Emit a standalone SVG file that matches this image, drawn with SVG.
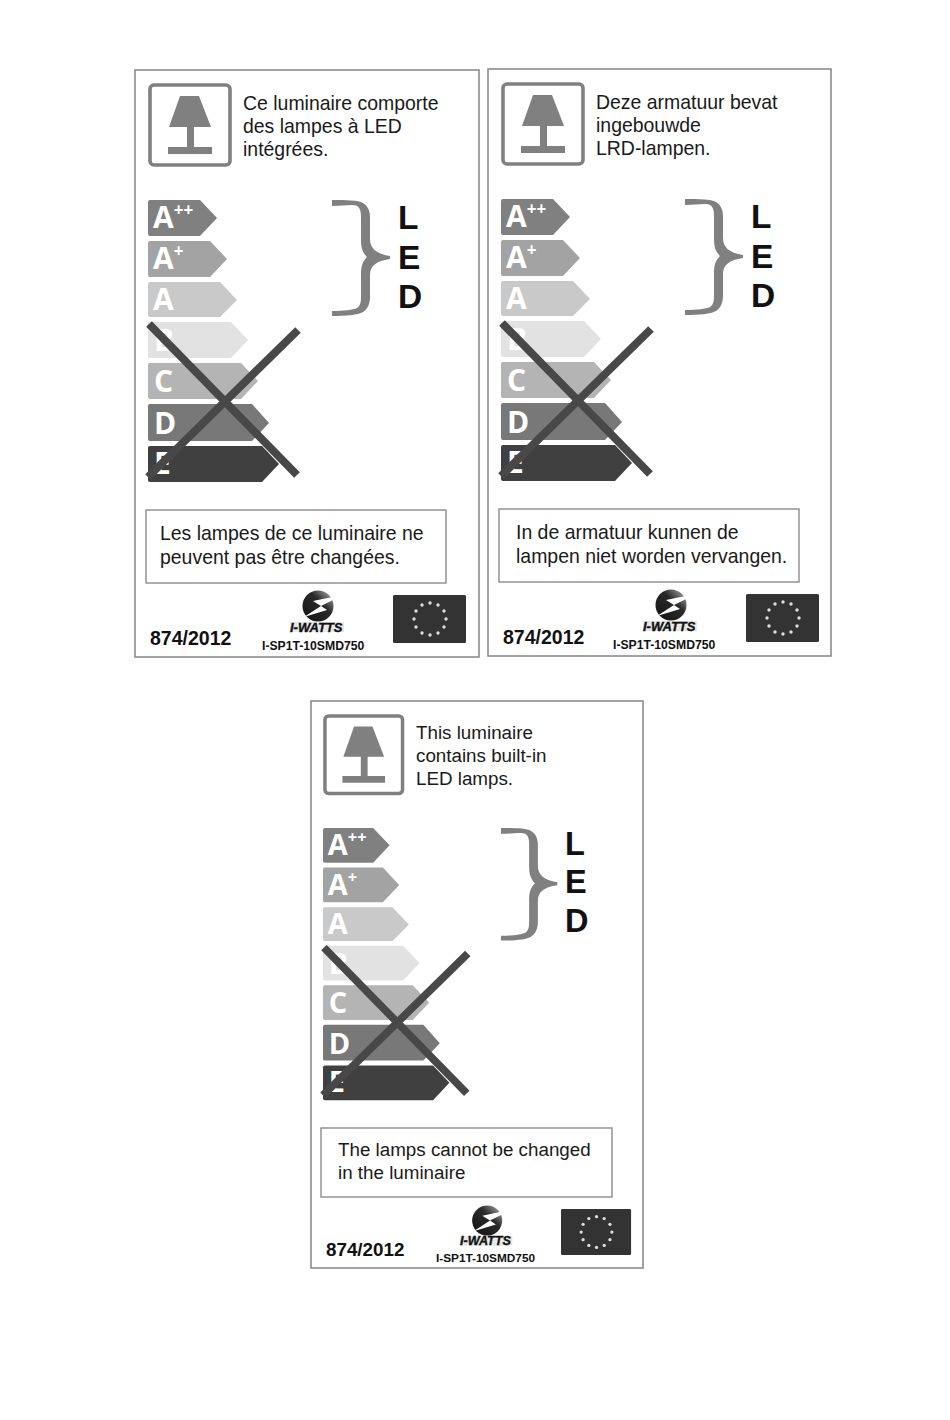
<svg xmlns="http://www.w3.org/2000/svg" width="950" height="1420" viewBox="0 0 950 1420">
<style>
.frame{fill:#fff;stroke:#8c8c8c;stroke-width:1.6}
.icon{fill:#fff;stroke:#808080;stroke-width:3.6}
.g{fill:#808080}
.t{font-family:"Liberation Sans",Arial,sans-serif;fill:#1a1a1a}
.b{font-weight:700;fill:#111}
.l{font-family:"Open Sans",sans-serif;font-weight:700;fill:#fff;font-size:30px}
.s{font-size:17px}
.x{stroke:#484848;stroke-width:8;fill:none}
.box{fill:#fff;stroke:#8c8c8c;stroke-width:1.4}
.flag{fill:#333}
.star{fill:#ddd}
.wm{font-family:"Liberation Sans",Arial,sans-serif;font-weight:700;font-style:italic;fill:#111;stroke:#111;stroke-width:.35}
</style>
<defs>
<linearGradient id="sphere" x1="0" y1="1" x2="1" y2="0"><stop offset="0" stop-color="#111"/><stop offset=".6" stop-color="#2a2a2a"/><stop offset="1" stop-color="#bbb"/></linearGradient>
<g id="lamp">
<rect class="icon" x="2" y="2" width="80" height="80" rx="4"/>
<path class="g" d="M32 13H51L63 44H46V64H64V71H20V64H39V44H21Z"/>
</g>
<g id="flagmark">
<rect class="flag" x="0" y="0" width="73" height="48" rx="1.5"/>
<g class="star"><circle cx="37" cy="8" r="1.7"/><circle cx="45" cy="10" r="1.7"/><circle cx="51" cy="16" r="1.7"/><circle cx="53" cy="24" r="1.7"/><circle cx="51" cy="32" r="1.7"/><circle cx="45" cy="38" r="1.7"/><circle cx="37" cy="40" r="1.7"/><circle cx="29" cy="38" r="1.7"/><circle cx="23" cy="32" r="1.7"/><circle cx="21" cy="24" r="1.7"/><circle cx="23" cy="16" r="1.7"/><circle cx="29" cy="10" r="1.7"/></g>
</g>
<g id="mark">
<circle cx="28" cy="16" r="15.5" fill="url(#sphere)"/>
<path d="M47 6 23 11 31 16 14 27 37 20 31 16 45 9Z" fill="#fff"/>
<rect x="0" y="32" width="54" height="10" fill="#e8e8e8"/>
</g>
<g id="bands">
<path fill="#808080" d="M2 0H52L69 18 52 36H2Q0 36 0 34V2Q0 0 2 0Z"/>
<path fill="#a3a3a3" d="M2 41H62L79 59 62 77H2Q0 77 0 75V43Q0 41 2 41Z"/>
<path fill="#c9c9c9" d="M2 82H72L89 100 72 117H2Q0 117 0 115V84Q0 82 2 82Z"/>
<path fill="#e2e2e2" d="M2 122H83L100 140 83 158H2Q0 158 0 156V124Q0 122 2 122Z"/>
<path fill="#b4b4b4" d="M2 163H93L110 181 93 199H2Q0 199 0 197V165Q0 163 2 163Z"/>
<path fill="#787878" d="M2 204H104L121 223 104 241H2Q0 241 0 239V206Q0 204 2 204Z"/>
<path fill="#404040" d="M2 246H114L131 264 114 282H2Q0 282 0 280V248Q0 246 2 246Z"/>
</g>
<path id="bracemark" fill="#808080" d="M0 -1C14 -1 26 -1 31 2C36 5 38 10 38 16V38C38 47 44 53 58 55V58C44 60 38 65 38 74V96C38 102 36 108 31 111C26 114 14 115 0 115V110C12 110 21 109 25 107C28 105 29 102 29 96V74C29 66 30 61 35 56C30 51 29 46 29 38V16C29 10 28 7 25 5C21 3 12 5 0 5Z"/>
</defs>

<g id="panel-fr">
<rect class="frame" x="135" y="70" width="344" height="587"/>
<use href="#lamp" x="148" y="83"/>
<text class="t" font-size="19.45"><tspan x="243" y="110">Ce luminaire comporte</tspan><tspan x="243" y="133">des lampes à LED</tspan><tspan x="243" y="156">intégrées.</tspan></text>
<g id="scale-fr" transform="translate(148 200)">
<use href="#bands"/>
<text class="l" x="5" y="28">A<tspan class="s" dy="-12">++</tspan></text>
<text class="l" x="5" y="69">A<tspan class="s" dy="-12">+</tspan></text>
<text class="l" x="5" y="110">A</text>
<text class="l" x="6" y="151">B</text>
<text class="l" x="6" y="192">C</text>
<text class="l" x="6" y="234">D</text>
<text class="l" x="6" y="274">E</text>
<path class="x" d="M1 124 149 275M150 130 0 277"/>
</g>
<use href="#bracemark" x="332" y="201"/>
<text class="t b" font-size="33.5" x="398" y="229">L</text>
<text class="t b" font-size="33.5" x="398" y="269">E</text>
<text class="t b" font-size="33.5" x="398" y="308">D</text>
<rect class="box" x="146" y="510" width="300" height="73"/>
<text class="t" font-size="19.45"><tspan x="160" y="540">Les lampes de ce luminaire ne</tspan><tspan x="160" y="564">peuvent pas être changées.</tspan></text>
<text class="t b" font-size="19.5" x="150" y="645">874/2012</text>
<use href="#mark" x="290" y="590"/>
<text class="wm" font-size="13" x="290" y="632">I-WATTS</text>
<text class="t b" font-size="12.2" x="262" y="650">I-SP1T-10SMD750</text>
<use href="#flagmark" x="393" y="595"/>
</g>

<g id="panel-nl">
<rect class="frame" x="488" y="69" width="343" height="587"/>
<use href="#lamp" x="501" y="82"/>
<text class="t" font-size="19.45"><tspan x="596" y="109">Deze armatuur bevat</tspan><tspan x="596" y="132">ingebouwde</tspan><tspan x="596" y="155">LRD-lampen.</tspan></text>
<g id="scale-nl" transform="translate(501 199)">
<use href="#bands"/>
<text class="l" x="5" y="28">A<tspan class="s" dy="-12">++</tspan></text>
<text class="l" x="5" y="69">A<tspan class="s" dy="-12">+</tspan></text>
<text class="l" x="5" y="110">A</text>
<text class="l" x="6" y="151">B</text>
<text class="l" x="6" y="192">C</text>
<text class="l" x="6" y="234">D</text>
<text class="l" x="6" y="274">E</text>
<path class="x" d="M1 124 149 275M150 130 0 277"/>
</g>
<use href="#bracemark" x="685" y="200"/>
<text class="t b" font-size="33.5" x="751" y="228">L</text>
<text class="t b" font-size="33.5" x="751" y="268">E</text>
<text class="t b" font-size="33.5" x="751" y="307">D</text>
<rect class="box" x="499" y="509" width="300" height="73"/>
<text class="t" font-size="19.45"><tspan x="516" y="539">In de armatuur kunnen de</tspan><tspan x="516" y="563">lampen niet worden vervangen.</tspan></text>
<text class="t b" font-size="19.5" x="503" y="644">874/2012</text>
<use href="#mark" x="643" y="589"/>
<text class="wm" font-size="13" x="643" y="631">I-WATTS</text>
<text class="t b" font-size="12.2" x="613" y="649">I-SP1T-10SMD750</text>
<use href="#flagmark" x="746" y="594"/>
</g>

<g id="panel-en">
<rect class="frame" x="311" y="701" width="332" height="567"/>
<use href="#lamp" transform="translate(323 714) scale(.97)"/>
<text class="t" font-size="18.8"><tspan x="416" y="739">This luminaire</tspan><tspan x="416" y="762">contains built-in</tspan><tspan x="416" y="785">LED lamps.</tspan></text>
<g id="scale-en" transform="translate(323 828) scale(.965)">
<use href="#bands"/>
<text class="l" x="5" y="28">A<tspan class="s" dy="-12">++</tspan></text>
<text class="l" x="5" y="69">A<tspan class="s" dy="-12">+</tspan></text>
<text class="l" x="5" y="110">A</text>
<text class="l" x="6" y="151">B</text>
<text class="l" x="6" y="192">C</text>
<text class="l" x="6" y="234">D</text>
<text class="l" x="6" y="274">E</text>
<path class="x" d="M1 124 149 275M150 130 0 277"/>
</g>
<use href="#bracemark" transform="translate(501 829) scale(.97)"/>
<text class="t b" font-size="32.5" x="565" y="855">L</text>
<text class="t b" font-size="32.5" x="565" y="893">E</text>
<text class="t b" font-size="32.5" x="565" y="932">D</text>
<rect class="box" x="321" y="1128" width="291" height="69"/>
<text class="t" font-size="18.8"><tspan x="338" y="1156">The lamps cannot be changed</tspan><tspan x="338" y="1179">in the luminaire</tspan></text>
<text class="t b" font-size="18.8" x="326" y="1256">874/2012</text>
<use href="#mark" transform="translate(460 1205) scale(.97)"/>
<text class="wm" font-size="12.6" x="460" y="1245">I-WATTS</text>
<text class="t b" font-size="11.8" x="436" y="1262">I-SP1T-10SMD750</text>
<use href="#flagmark" transform="translate(561 1209) scale(.96)"/>
</g>
</svg>
